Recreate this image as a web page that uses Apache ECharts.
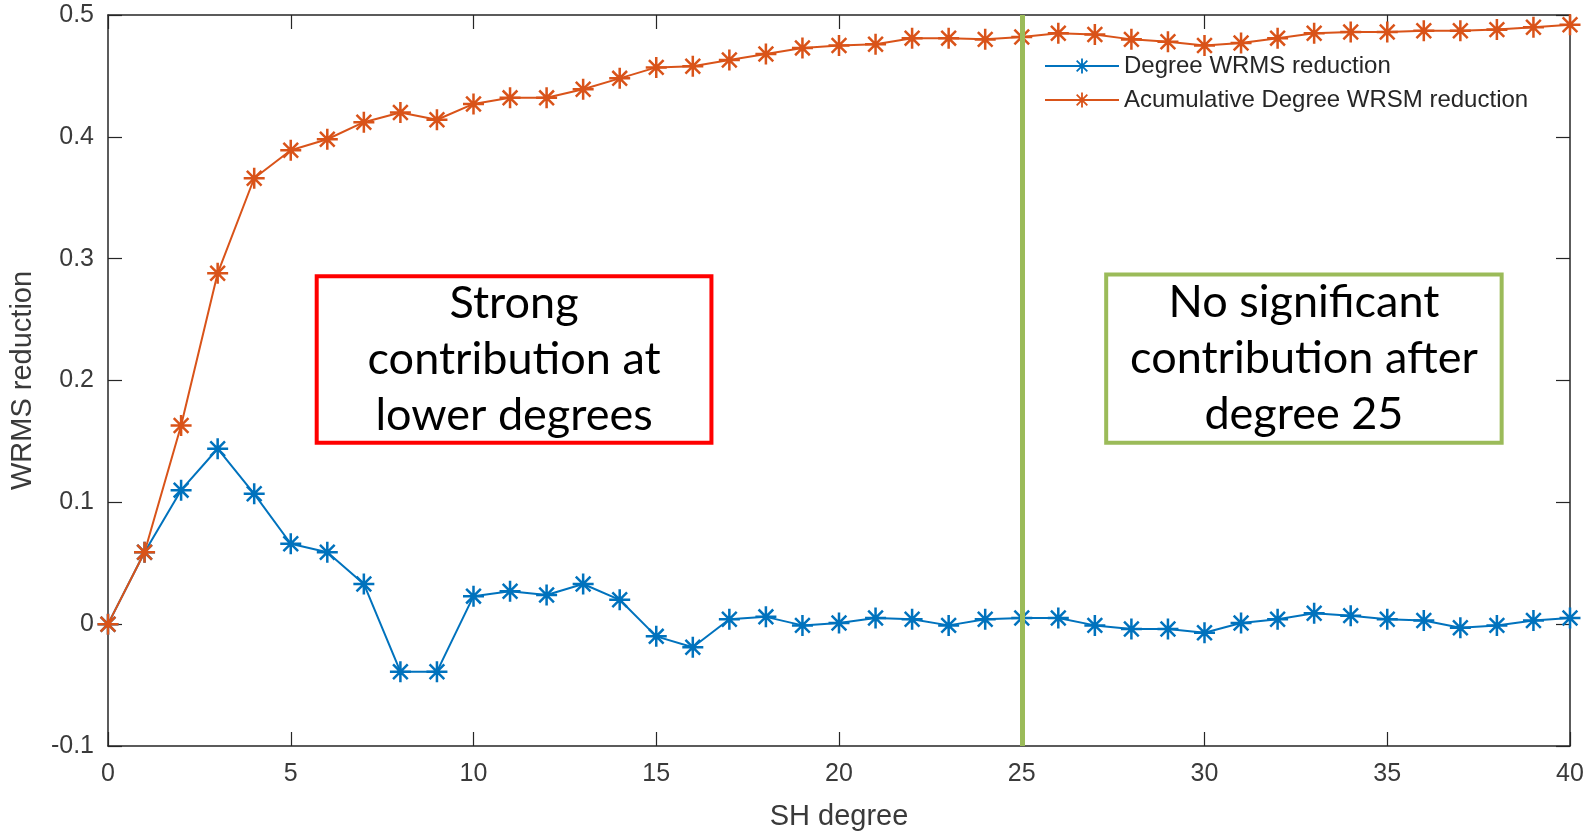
<!DOCTYPE html>
<html>
<head>
<meta charset="utf-8">
<title>WRMS reduction</title>
<script src="https://cdn.jsdelivr.net/npm/echarts@6/dist/echarts.min.js"></script>
<style>
html, body { margin: 0; padding: 0; background: #fff; }
#main { width: 1589px; height: 836px; }
</style>
</head>
<body>
<div id="main"></div>
<script>
/* SH degree (x) */
var degrees = [0, 1, 2, 3, 4, 5, 6, 7, 8, 9, 10, 11, 12, 13, 14, 15, 16, 17, 18, 19, 20,
	21, 22, 23, 24, 25, 26, 27, 28, 29, 30, 31, 32, 33, 34, 35, 36, 37, 38, 39, 40];

/* Degree WRMS reduction */
var degree_wrms = [0, 0.059, 0.110, 0.144, 0.107, 0.066, 0.059, 0.033, -0.039, -0.039,
	0.023, 0.027, 0.024, 0.033, 0.020, -0.010, -0.019, 0.004, 0.006, -0.001,
	0.001, 0.005, 0.004, -0.001, 0.004, 0.005, 0.005, -0.001, -0.004, -0.004,
	-0.007, 0.001, 0.004, 0.009, 0.007, 0.004, 0.003, -0.003, -0.001, 0.003, 0.005];

/* Acumulative Degree WRSM reduction */
var acum_wrms = [0, 0.059, 0.163, 0.288, 0.366, 0.389, 0.398, 0.412, 0.420, 0.414,
	0.427, 0.432, 0.432, 0.439, 0.448, 0.457, 0.458, 0.463, 0.468, 0.473,
	0.475, 0.476, 0.481, 0.481, 0.480, 0.482, 0.485, 0.484, 0.480, 0.478,
	0.475, 0.477, 0.481, 0.485, 0.486, 0.486, 0.487, 0.487, 0.488, 0.490, 0.492];

var series_names = ['Degree WRMS reduction', 'Acumulative Degree WRSM reduction'];
var series_colors = ['#0072BD', '#D95319'];

/* tick values */
var x_ticks = { min: 0, max: 40, interval: 5 };
var y_ticks = { min: -0.1, max: 0.5, interval: 0.1 };

var cut_off_degree = 25;
var note_low = 'Strong\ncontribution at\nlower degrees';
var note_high = 'No significant\ncontribution after\ndegree 25';

/* matlab style '*' marker */
var star = 'path://M0 44H100V56H0Z M44 0H56V100H44Z M10.8 19.2L19.2 10.8L89.2 80.8L80.8 89.2Z M80.8 10.8L89.2 19.2L19.2 89.2L10.8 80.8Z';

var axis_color = '#262626';
var tick_font = { fontFamily: 'Liberation Sans', fontSize: 25, color: '#3a3a3a' };

function pairs(xs, ys) {
	var out = [];
	for (var i = 0; i < xs.length; i++) {
		out.push([xs[i], ys[i]]);
	}
	return out;
}

function make_axis(t, pos, show_label) {
	return {
		type: 'value',
		position: pos,
		min: t.min,
		max: t.max,
		interval: t.interval,
		axisLine: { show: true, onZero: false, lineStyle: { color: axis_color, width: 1.5 } },
		axisTick: { show: true, inside: true, length: 14, lineStyle: { color: axis_color, width: 1.2 } },
		axisLabel: {
			show: show_label,
			margin: 14,
			fontFamily: tick_font.fontFamily,
			fontSize: tick_font.fontSize,
			color: tick_font.color
		},
		splitLine: { show: false }
	};
}

var xAxis_bottom = make_axis(x_ticks, 'bottom', true);
xAxis_bottom.axisLabel.margin = 16;
xAxis_bottom.name = 'SH degree';
xAxis_bottom.nameLocation = 'middle';
xAxis_bottom.nameGap = 56;
xAxis_bottom.nameTextStyle = { fontFamily: 'Liberation Sans', fontSize: 29, color: '#3a3a3a' };
var xAxis_top = make_axis(x_ticks, 'top', false);

var yAxis_left = make_axis(y_ticks, 'left', true);
yAxis_left.name = 'WRMS reduction';
yAxis_left.nameLocation = 'middle';
yAxis_left.nameGap = 71;
yAxis_left.nameTextStyle = { fontFamily: 'Liberation Sans', fontSize: 29, color: '#3a3a3a' };
var yAxis_right = make_axis(y_ticks, 'right', false);

var note_label = {
	show: true,
	position: 'inside',
	fontFamily: 'Lato',
	fontSize: 45,
	lineHeight: 56,
	color: '#000',
	align: 'center',
	verticalAlign: 'middle'
};

var option = {
	backgroundColor: '#fff',
	animation: false,
	grid: { left: 107, right: 19, top: 15, bottom: 89, containLabel: false },
	legend: {
		orient: 'vertical',
		left: 1039,
		top: 49,
		itemWidth: 74,
		itemHeight: 19,
		itemGap: 10,
		textStyle: { fontFamily: 'Liberation Sans', fontSize: 24, color: '#262626' },
		data: series_names
	},
	xAxis: [xAxis_bottom, xAxis_top],
	yAxis: [yAxis_left, yAxis_right],
	series: [{
		name: series_names[0],
		type: 'line',
		data: pairs(degrees, degree_wrms),
		symbol: star,
		symbolSize: 21,
		showAllSymbol: true,
		clip: false,
		itemStyle: { color: series_colors[0] },
		lineStyle: { color: series_colors[0], width: 2 },
		z: 3,
		markLine: {
			silent: true,
			symbol: 'none',
			label: { show: false },
			lineStyle: { color: '#9BBB59', width: 5, type: 'solid' },
			data: [{ xAxis: cut_off_degree }]
		},
		markArea: {
			silent: true,
			data: [
				[{ coord: [5.71, 0.2855], itemStyle: { color: 'rgba(255,255,255,0)', borderColor: '#FF0000', borderWidth: 4 }, label: note_label, name: note_low },
				 { coord: [16.51, 0.149] }],
				[{ coord: [27.31, 0.287], itemStyle: { color: 'rgba(255,255,255,0)', borderColor: '#9BBB59', borderWidth: 4 }, label: note_label, name: note_high },
				 { coord: [38.13, 0.149] }]
			]
		}
	}, {
		name: series_names[1],
		type: 'line',
		data: pairs(degrees, acum_wrms),
		symbol: star,
		symbolSize: 21,
		showAllSymbol: true,
		clip: false,
		itemStyle: { color: series_colors[1] },
		lineStyle: { color: series_colors[1], width: 2 },
		z: 4
	}]
};

var chart = echarts.init(document.getElementById('main'));
chart.setOption(option);
</script>
</body>
</html>
